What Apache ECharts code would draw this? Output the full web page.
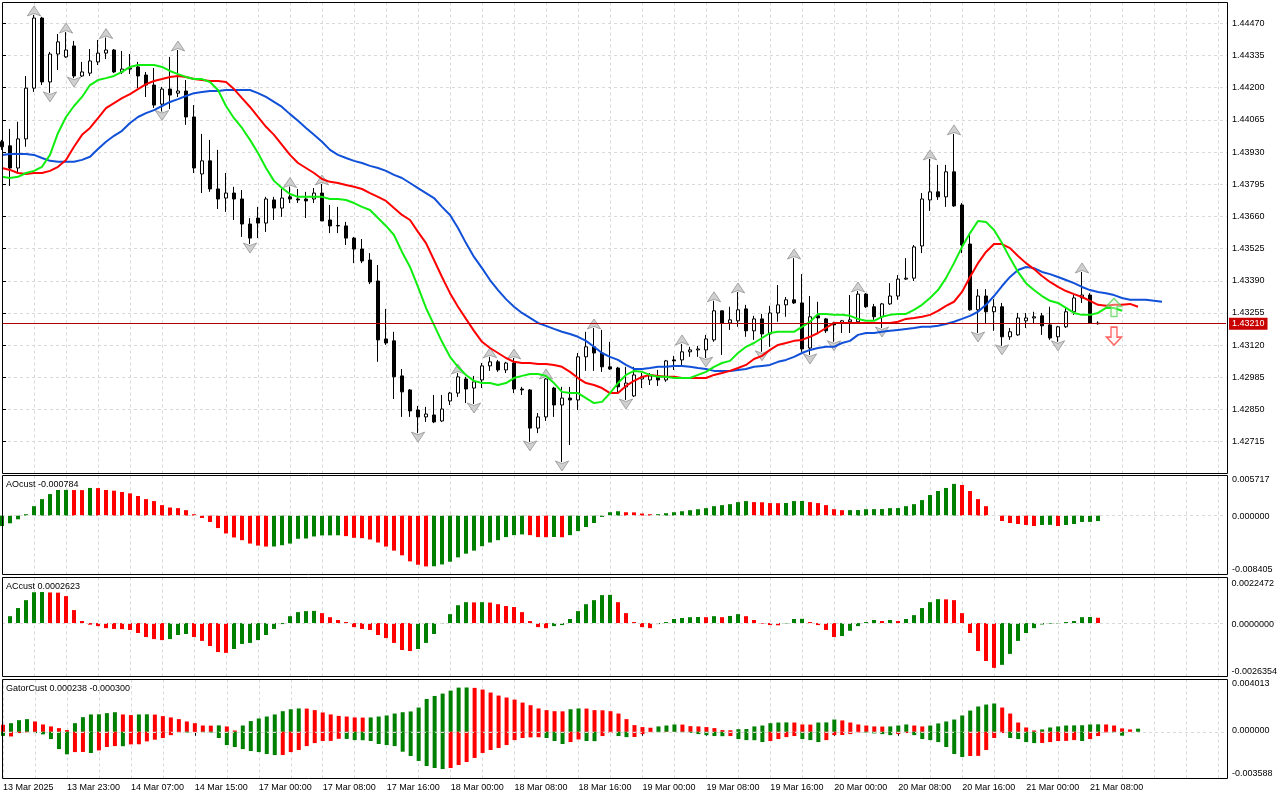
<!DOCTYPE html>
<html>
<head>
<meta charset="utf-8">
<title>USDCAD H1 - Alligator / AO / AC / Gator</title>
<script src="https://cdn.jsdelivr.net/npm/echarts@6/dist/echarts.min.js"></script>
<style>
  html, body { margin: 0; padding: 0; background: #fff; }
  #chart { width: 1280px; height: 800px; }
</style>
</head>
<body>
<div id="chart"></div>
<script>
// ---- time axis ----
const sessions = [
  ['13 Mar', 15, 23], ['14 Mar', 0, 22], ['17 Mar', 0, 23], ['18 Mar', 0, 23],
  ['19 Mar', 0, 23], ['20 Mar', 0, 23], ['21 Mar', 0, 9]
];
const firstLabel = '13 Mar 2025';
const futureSlots = 16;

// ---- candles (H1) ----
const opens = [
  1.43973,1.43956,1.43863,1.43985,1.44198,1.44492,1.44224,1.44341,1.44329,1.44375,
  1.44249,1.44261,1.44308,1.44345,1.44358,1.44266,1.44278,1.44287,1.44253,1.44211,
  1.44131,1.44194,1.44177,1.44186,1.44077,1.43838,1.43893,1.43775,1.43737,1.43758,
  1.43733,1.43628,1.43653,1.43632,1.43729,1.43695,1.43742,1.43733,1.43733,1.43733,
  1.43758,1.43645,1.43622,1.43620,1.43569,1.43523,1.43477,1.43389,1.43146,1.43138,
  1.42991,1.42932,1.42848,1.42819,1.42827,1.42802,1.42886,1.42919,1.42978,1.42940,
  1.42974,1.43033,1.43050,1.43016,1.43045,1.42936,1.42932,1.42772,1.42819,1.42940,
  1.42869,1.42898,1.42890,1.43071,1.43113,1.43087,1.43029,1.43024,1.42945,1.42907,
  1.42978,1.42974,1.42987,1.42974,1.43058,1.43058,1.43092,1.43100,1.43100,1.43142,
  1.43264,1.43213,1.43222,1.43272,1.43180,1.43230,1.43167,1.43255,1.43289,1.43310,
  1.43297,1.43108,1.43243,1.43230,1.43213,1.43213,1.43218,1.43218,1.43334,1.43281,
  1.43239,1.43293,1.43326,1.43397,1.43401,1.43536,1.43729,1.43763,1.43742,1.43847,
  1.43708,1.43544,1.43268,1.43326,1.43260,1.43281,1.43155,1.43163,1.43222,1.43234,
  1.43243,1.43205,1.43155,1.43197,1.43260,1.43318,1.43330,1.43212
];
const highs = [
  1.43981,1.44027,1.44057,1.44249,1.44505,1.44497,1.44350,1.44425,1.44433,1.44396,
  1.44308,1.44362,1.44400,1.44410,1.44362,1.44354,1.44341,1.44308,1.44266,1.44282,
  1.44203,1.44329,1.44358,1.44232,1.44127,1.44006,1.43981,1.43939,1.43842,1.43784,
  1.43771,1.43653,1.43700,1.43742,1.43742,1.43775,1.43785,1.43775,1.43763,1.43779,
  1.43796,1.43708,1.43700,1.43637,1.43574,1.43565,1.43506,1.43456,1.43272,1.43176,
  1.43020,1.42936,1.42865,1.42861,1.42911,1.42911,1.42924,1.43003,1.42987,1.42991,
  1.43045,1.43071,1.43058,1.43050,1.43066,1.42945,1.42936,1.42835,1.42982,1.42945,
  1.42945,1.42945,1.43087,1.43176,1.43192,1.43184,1.43134,1.43029,1.43029,1.43029,
  1.43003,1.43003,1.43016,1.43058,1.43075,1.43125,1.43113,1.43117,1.43163,1.43306,
  1.43264,1.43281,1.43343,1.43289,1.43243,1.43251,1.43285,1.43372,1.43322,1.43485,
  1.43418,1.43326,1.43302,1.43234,1.43218,1.43226,1.43330,1.43347,1.43338,1.43293,
  1.43297,1.43380,1.43414,1.43485,1.43540,1.43758,1.43901,1.43876,1.43876,1.44006,
  1.43716,1.43582,1.43355,1.43355,1.43313,1.43297,1.43192,1.43255,1.43255,1.43260,
  1.43255,1.43281,1.43201,1.43276,1.43330,1.43427,1.43338,1.43220
];
const lows = [
  1.43939,1.43788,1.43842,1.43952,1.44182,1.44211,1.44178,1.44274,1.44325,1.44240,
  1.44245,1.44249,1.44295,1.44320,1.44261,1.44257,1.44257,1.44198,1.44161,1.44115,
  1.44100,1.44110,1.44161,1.44044,1.43842,1.43758,1.43763,1.43691,1.43679,1.43645,
  1.43574,1.43544,1.43569,1.43595,1.43645,1.43658,1.43716,1.43716,1.43653,1.43716,
  1.43641,1.43590,1.43590,1.43540,1.43464,1.43464,1.43376,1.43050,1.43121,1.42894,
  1.42819,1.42819,1.42751,1.42798,1.42793,1.42798,1.42869,1.42903,1.42877,1.42873,
  1.42940,1.43012,1.43008,1.43003,1.42919,1.42911,1.42714,1.42751,1.42802,1.42819,
  1.42630,1.42701,1.42848,1.43012,1.43012,1.43008,1.43016,1.42919,1.42890,1.42903,
  1.42940,1.42953,1.42949,1.42966,1.43016,1.43037,1.43071,1.43071,1.43066,1.43134,
  1.43079,1.43184,1.43197,1.43155,1.43142,1.43092,1.43113,1.43218,1.43239,1.43293,
  1.43092,1.43079,1.43171,1.43171,1.43134,1.43171,1.43171,1.43209,1.43276,1.43226,
  1.43192,1.43289,1.43310,1.43393,1.43389,1.43506,1.43683,1.43729,1.43700,1.43700,
  1.43506,1.43264,1.43171,1.43213,1.43180,1.43117,1.43142,1.43159,1.43192,1.43213,
  1.43163,1.43142,1.43134,1.43192,1.43247,1.43297,1.43209,1.43206
];
const closes = [
  1.43952,1.43863,1.43985,1.44198,1.44492,1.44224,1.44341,1.44392,1.44358,1.44249,
  1.44266,1.44312,1.44345,1.44358,1.44266,1.44278,1.44282,1.44249,1.44211,1.44127,
  1.44194,1.44169,1.44186,1.44077,1.43863,1.43893,1.43775,1.43733,1.43758,1.43733,
  1.43628,1.43569,1.43632,1.43733,1.43695,1.43737,1.43733,1.43729,1.43725,1.43758,
  1.43641,1.43620,1.43620,1.43569,1.43523,1.43473,1.43385,1.43142,1.43129,1.42987,
  1.42924,1.42844,1.42819,1.42831,1.42798,1.42852,1.42919,1.42987,1.42936,1.42966,
  1.43033,1.43050,1.43016,1.43045,1.42936,1.42932,1.42772,1.42819,1.42978,1.42869,
  1.42898,1.42890,1.43071,1.43113,1.43087,1.43029,1.43020,1.42945,1.42961,1.42995,
  1.42987,1.42991,1.42974,1.43054,1.43054,1.43092,1.43100,1.43104,1.43146,1.43264,
  1.43213,1.43226,1.43268,1.43180,1.43230,1.43167,1.43255,1.43289,1.43310,1.43297,
  1.43104,1.43239,1.43234,1.43180,1.43205,1.43222,1.43226,1.43334,1.43281,1.43239,
  1.43293,1.43326,1.43397,1.43401,1.43532,1.43733,1.43763,1.43742,1.43847,1.43704,
  1.43540,1.43268,1.43326,1.43260,1.43281,1.43155,1.43176,1.43234,1.43234,1.43239,
  1.43201,1.43150,1.43197,1.43260,1.43318,1.43330,1.43213,1.43210
];
const lastPrice = 1.43210;

// ---- alligator (already shifted forward) ----
const jaw = [
  1.43918,1.43922,1.43922,1.43922,1.43918,1.43905,1.43893,1.43889,1.43889,1.43889,
  1.43897,1.43910,1.43943,1.43973,1.43998,1.44019,1.44052,1.44077,1.44093,1.44106,
  1.44123,1.44140,1.44152,1.44165,1.44177,1.44182,1.44186,1.44186,1.44190,1.44190,
  1.44190,1.44190,1.44177,1.44161,1.44140,1.44119,1.44089,1.44061,1.44031,1.44002,
  1.43973,1.43939,1.43918,1.43905,1.43893,1.43884,1.43872,1.43863,1.43851,1.43834,
  1.43821,1.43800,1.43779,1.43758,1.43737,1.43700,1.43666,1.43611,1.43548,1.43490,
  1.43443,1.43393,1.43351,1.43313,1.43281,1.43255,1.43234,1.43213,1.43201,1.43188,
  1.43176,1.43167,1.43155,1.43138,1.43113,1.43087,1.43071,1.43058,1.43037,1.43020,
  1.43020,1.43024,1.43029,1.43029,1.43033,1.43033,1.43029,1.43024,1.43020,1.43012,
  1.43012,1.43012,1.43016,1.43020,1.43029,1.43033,1.43037,1.43050,1.43058,1.43071,
  1.43087,1.43100,1.43108,1.43113,1.43113,1.43129,1.43138,1.43163,1.43171,1.43171,
  1.43176,1.43180,1.43184,1.43188,1.43192,1.43197,1.43197,1.43201,1.43209,1.43218,
  1.43230,1.43243,1.43260,1.43289,1.43326,1.43368,1.43406,1.43435,1.43448,1.43443,
  1.43427,1.43418,1.43406,1.43393,1.43380,1.43364,1.43351,1.43343,1.43338,1.43330,
  1.43318,1.43310,1.43310,1.43310,1.43306,1.43302
];
const teeth = [
  1.43863,1.43855,1.43842,1.43838,1.43842,1.43842,1.43851,1.43868,1.43897,1.43952,
  1.44002,1.44031,1.44072,1.44114,1.44135,1.44156,1.44173,1.44194,1.44215,1.44228,
  1.44236,1.44245,1.44249,1.44245,1.44236,1.44232,1.44228,1.44228,1.44224,1.44194,
  1.44156,1.44119,1.44077,1.44036,1.44002,1.43960,1.43918,1.43884,1.43863,1.43842,
  1.43817,1.43805,1.43800,1.43792,1.43784,1.43775,1.43758,1.43742,1.43725,1.43695,
  1.43666,1.43645,1.43595,1.43548,1.43477,1.43406,1.43338,1.43281,1.43230,1.43180,
  1.43134,1.43108,1.43087,1.43066,1.43050,1.43045,1.43045,1.43041,1.43041,1.43037,
  1.43029,1.43008,1.42982,1.42961,1.42953,1.42940,1.42919,1.42919,1.42949,1.42970,
  1.42987,1.42995,1.42991,1.42987,1.42987,1.42982,1.42982,1.42982,1.42982,1.42995,
  1.43003,1.43012,1.43024,1.43037,1.43062,1.43075,1.43100,1.43121,1.43129,1.43138,
  1.43142,1.43155,1.43171,1.43192,1.43213,1.43213,1.43213,1.43213,1.43213,1.43213,
  1.43213,1.43213,1.43218,1.43230,1.43234,1.43239,1.43247,1.43264,1.43285,1.43302,
  1.43343,1.43406,1.43464,1.43511,1.43544,1.43544,1.43527,1.43494,1.43464,1.43439,
  1.43410,1.43385,1.43364,1.43347,1.43334,1.43322,1.43306,1.43289,1.43285,1.43289,
  1.43289,1.43293,1.43281
];
const lips = [
  1.43826,1.43821,1.43826,1.43842,1.43851,1.43868,1.43918,1.44010,1.44077,1.44123,
  1.44161,1.44211,1.44232,1.44240,1.44249,1.44266,1.44287,1.44295,1.44295,1.44295,
  1.44287,1.44270,1.44257,1.44245,1.44236,1.44236,1.44224,1.44190,1.44123,1.44072,
  1.44031,1.43981,1.43926,1.43863,1.43809,1.43779,1.43754,1.43742,1.43742,1.43742,
  1.43742,1.43733,1.43733,1.43729,1.43716,1.43700,1.43687,1.43653,1.43620,1.43582,
  1.43511,1.43448,1.43364,1.43276,1.43205,1.43134,1.43071,1.43029,1.42995,1.42970,
  1.42961,1.42961,1.42953,1.42961,1.42982,1.42991,1.42999,1.42999,1.42991,1.42961,
  1.42924,1.42919,1.42919,1.42898,1.42877,1.42882,1.42919,1.42961,1.42995,1.43012,
  1.43008,1.42995,1.42987,1.42987,1.42982,1.42982,1.42982,1.42995,1.43008,1.43029,
  1.43045,1.43054,1.43087,1.43113,1.43129,1.43150,1.43171,1.43176,1.43176,1.43176,
  1.43197,1.43218,1.43251,1.43251,1.43247,1.43247,1.43243,1.43230,1.43222,1.43222,
  1.43239,1.43247,1.43251,1.43251,1.43268,1.43289,1.43318,1.43351,1.43401,1.43464,
  1.43532,1.43590,1.43641,1.43637,1.43603,1.43548,1.43485,1.43427,1.43380,1.43351,
  1.43326,1.43306,1.43297,1.43276,1.43255,1.43247,1.43247,1.43255,1.43276,1.43276,
  1.43264
];

// fractal bars (arrow sits above the high / below the low)
const fractalUpBars = [4, 8, 13, 22, 36, 40, 57, 61, 64, 68, 74, 85, 89, 92, 99, 107, 116, 119, 135];
const fractalDownBars = [6, 9, 20, 31, 52, 59, 66, 70, 78, 88, 95, 101, 104, 110, 122, 125, 132];
// signal arrows at the right end
const signalUp = [[139, 1.43278]];
const signalDown = [[139, 1.43158]];

// ---- Awesome oscillator ----
const ao = [
  -0.00149,-0.00110,-0.00053,0.00019,0.00134,0.00235,0.00307,0.00365,0.00366,0.00364,
  0.00363,0.00394,0.00392,0.00365,0.00355,0.00336,0.00317,0.00279,0.00235,0.00207,
  0.00149,0.00115,0.00106,0.00077,0.00019,-0.00034,-0.00091,-0.00178,-0.00255,-0.00312,
  -0.00351,-0.00399,-0.00428,-0.00442,-0.00441,-0.00423,-0.00399,-0.00331,-0.00327,-0.00298,
  -0.00283,-0.00282,-0.00281,-0.00293,-0.00317,-0.00322,-0.00341,-0.00384,-0.00442,-0.00500,
  -0.00567,-0.00653,-0.00701,-0.00725,-0.00723,-0.00697,-0.00658,-0.00596,-0.00543,-0.00500,
  -0.00437,-0.00384,-0.00351,-0.00307,-0.00279,-0.00269,-0.00279,-0.00307,-0.00308,-0.00306,
  -0.00309,-0.00279,-0.00221,-0.00163,-0.00106,-0.00019,0.00048,0.00062,0.00048,0.00046,
  0.00029,0.00019,0.00020,0.00034,0.00048,0.00062,0.00077,0.00091,0.00106,0.00134,
  0.00149,0.00163,0.00192,0.00207,0.00192,0.00190,0.00178,0.00177,0.00180,0.00207,
  0.00208,0.00192,0.00178,0.00149,0.00091,0.00077,0.00078,0.00079,0.00091,0.00092,
  0.00093,0.00106,0.00107,0.00134,0.00163,0.00221,0.00293,0.00351,0.00394,0.00452,
  0.00437,0.00351,0.00235,0.00134,-0.00001,-0.00077,-0.00106,-0.00120,-0.00134,-0.00149,
  -0.00134,-0.00133,-0.00149,-0.00134,-0.00120,-0.00091,-0.00090,-0.000784
];
const aoColors = [
  'gggggggggr','rgrrrrrrrr','rrrrrrrrrr','rrrrgggggg','gggrrrrrrr','rrrrgggggg','ggggggrrrg',
  'rgggggggrr','rrgggggggg','ggggrrrrgg','grrrrrgggg','gggggggggg','rrrrrrrrrr','ggrggggg'
].join('');

// ---- Accelerator oscillator ----
const ac = [
  null,0.00034,0.00074,0.00113,0.00152,0.00153,0.00151,0.00150,0.00133,0.00064,
  0.00010,-0.00008,-0.00015,-0.00025,-0.00029,-0.00030,-0.00034,-0.00049,-0.00069,-0.00079,
  -0.00084,-0.00079,-0.00059,-0.00054,-0.00069,-0.00088,-0.00113,-0.00143,-0.00147,-0.00128,
  -0.00103,-0.00098,-0.00084,-0.00059,-0.00029,-0.00005,0.00034,0.00054,0.00059,0.00060,
  0.00049,0.00029,0.00015,0.00005,-0.00020,-0.00029,-0.00034,-0.00059,-0.00074,-0.00098,
  -0.00133,-0.00138,-0.00128,-0.00098,-0.00054,-0.00002,0.00044,0.00088,0.00103,0.00102,
  0.00103,0.00101,0.00093,0.00084,0.00079,0.00054,0.00010,-0.00020,-0.00025,-0.00015,
  -0.00010,0.00020,0.00059,0.00093,0.00113,0.00138,0.00139,0.00103,0.00049,0.00005,
  -0.00020,-0.00025,-0.00005,0.00005,0.00020,0.00025,0.00029,0.00030,0.00029,0.00034,
  0.00029,0.00035,0.00044,0.00034,0.00015,-0.00003,-0.00010,-0.00011,-0.00002,0.00020,
  0.00021,0.00005,-0.00010,-0.00034,-0.00069,-0.00064,-0.00038,-0.00015,0.00005,0.00015,
  0.00010,0.00015,0.00010,0.00020,0.00039,0.00074,0.00103,0.00118,0.00117,0.00113,
  0.00049,-0.00049,-0.00138,-0.00187,-0.00221,-0.00206,-0.00152,-0.00088,-0.00049,-0.00025,
  -0.00007,-0.00003,-0.00002,0.00005,0.00010,0.00029,0.00030,0.0002623
];
const acColors = [
  'ggggggrrrr','rrrrrrrrrr','rgggrrrrrg','gggggggggg','rrrrrrrrrr','rrgggggggr','grrrrrrrrg',
  'gggggggrrr','rrggggggrg','rggrrrrrgg','grrrrggggg','rgrgggggrr','rrrrrggggg','gggggggr'
].join('');

// ---- Gator oscillator (upper = |jaw-teeth|, lower = -|teeth-lips|) ----
const gatorUpper = [
  0.00054,0.00066,0.00089,0.00097,0.00079,0.00056,0.00041,0.00028,0.00013,0.00066,
  0.00112,0.00133,0.00134,0.00143,0.00150,0.00133,0.00128,0.00133,0.00134,0.00132,
  0.00120,0.00110,0.00097,0.00079,0.00066,0.00048,0.00047,0.00049,0.00041,0.00010,
  0.00048,0.00082,0.00102,0.00117,0.00133,0.00158,0.00173,0.00179,0.00178,0.00166,
  0.00148,0.00133,0.00122,0.00117,0.00110,0.00109,0.00110,0.00117,0.00125,0.00140,
  0.00150,0.00156,0.00186,0.00252,0.00275,0.00293,0.00316,0.00339,0.00340,0.00337,
  0.00324,0.00301,0.00278,0.00263,0.00247,0.00224,0.00204,0.00179,0.00166,0.00158,
  0.00157,0.00173,0.00179,0.00178,0.00166,0.00165,0.00158,0.00140,0.00097,0.00051,
  0.00036,0.00031,0.00041,0.00048,0.00056,0.00055,0.00043,0.00041,0.00036,0.00028,
  0.00013,0.00012,0.00020,0.00021,0.00041,0.00048,0.00066,0.00071,0.00072,0.00071,
  0.00056,0.00055,0.00071,0.00072,0.00094,0.00087,0.00071,0.00056,0.00048,0.00041,
  0.00040,0.00041,0.00048,0.00056,0.00048,0.00041,0.00048,0.00064,0.00079,0.00094,
  0.00125,0.00163,0.00194,0.00209,0.00217,0.00186,0.00140,0.00071,0.00033,0.00010,
  0.00018,0.00033,0.00041,0.00048,0.00049,0.00050,0.00056,0.00057,0.00056,0.00048,
  0.00026,0.00018,0.000238
];
const gatorUpperColors = [
  'rgggrrrrrg','gggggrrggr','rrrrrrrgrr','ggggggggrr','rrrrrrgggg','gggggggggr','rrrrrrrrrr',
  'rggrrrrrrr','rrgggrrrrr','rrgggggggr','rrgggrrrrr','rgggrrgggg','gggggrrrrr','ggggggggrr','rrg'
].join('');
const gatorLower = [
  -0.00031,-0.00036,-0.00010,-0.00005,-0.00010,-0.00020,-0.00056,-0.00133,-0.00173,-0.00156,
  -0.00155,-0.00163,-0.00143,-0.00117,-0.00110,-0.00111,-0.00097,-0.00096,-0.00074,-0.00061,
  -0.00048,-0.00026,-0.00005,-0.00006,-0.00003,-0.00005,-0.00006,-0.00048,-0.00102,-0.00117,
  -0.00133,-0.00148,-0.00156,-0.00171,-0.00179,-0.00178,-0.00156,-0.00140,-0.00110,-0.00087,
  -0.00071,-0.00070,-0.00054,-0.00055,-0.00064,-0.00065,-0.00071,-0.00094,-0.00102,-0.00110,
  -0.00153,-0.00186,-0.00224,-0.00263,-0.00278,-0.00286,-0.00278,-0.00255,-0.00232,-0.00201,
  -0.00163,-0.00140,-0.00125,-0.00102,-0.00064,-0.00048,-0.00043,-0.00042,-0.00048,-0.00071,
  -0.00094,-0.00079,-0.00059,-0.00071,-0.00072,-0.00033,-0.00010,-0.00033,-0.00041,-0.00040,
  -0.00018,-0.00003,-0.00004,-0.00002,-0.00001,-0.00005,-0.00008,-0.00018,-0.00026,-0.00033,
  -0.00034,-0.00033,-0.00056,-0.00064,-0.00065,-0.00079,-0.00071,-0.00056,-0.00041,-0.00033,
  -0.00056,-0.00064,-0.00079,-0.00064,-0.00026,-0.00025,-0.00018,-0.00005,-0.00006,-0.00013,
  -0.00018,-0.00026,-0.00018,-0.00010,-0.00026,-0.00056,-0.00064,-0.00079,-0.00117,-0.00171,
  -0.00194,-0.00186,-0.00185,-0.00140,-0.00048,-0.00010,-0.00048,-0.00056,-0.00079,-0.00087,
  -0.00086,-0.00079,-0.00071,-0.00070,-0.00064,-0.00071,-0.00056,-0.00033,-0.00005,-0.00006,
  -0.000300
];
const gatorLowerColors = [
  'grrrgggggr','rgrrrgrrrr','rrrgrggggg','gggggrrrrr','rrrggggggg','ggggggrrrr','rrrrrrrrgg',
  'grrggrrggr','rrgrrggggg','grggggrrrr','gggrrrrrgg','ggrrgggggg','grrrrrgggg','rrrrrgrrrg','g'
].join('');

// ---- value-axis ranges / tick labels ----
const priceTicks = { min: 1.42715, max: 1.44470, step: 0.00135 };
const priceView = [1.425816, 1.445572];       // full height of price pane
const aoRange = [-0.008405, 0.005717];
const acRange = [-0.0026354, 0.0022472];
const gatorRange = [-0.003588, 0.004013];

// ---- build ----
const times = [];
sessions.forEach(([day, h0, h1]) => {
  for (let h = h0; h <= h1; h++) times.push(day + ' ' + String(h).padStart(2, '0') + ':00');
});
for (let i = 0; i < futureSlots; i++) times.push('');

const candleData = opens.map((o, i) => [o, closes[i], lows[i], highs[i]]);

const FONT = '"Liberation Sans", Arial, sans-serif';
const GREEN = '#008000', RED = '#ff0000';
const gridLine = { color: '#d9d9d9', type: [3, 3], width: 1 };
const PL = 2, PW = 1224;

const chart = echarts.init(document.getElementById('chart'));

function dataX(gridIndex, withLabels) {
  return {
    type: 'category', gridIndex, data: times, boundaryGap: false,
    axisLine: { show: false },
    axisTick: withLabels
      ? { show: true, length: 4, interval: (i, v) => v !== '' && i % 8 === 0, lineStyle: { color: '#000' } }
      : { show: false },
    axisLabel: withLabels
      ? { show: true, interval: 7, align: 'left', margin: 5, color: '#000', fontSize: 9, fontFamily: FONT,
          formatter: (v, i) => (i === 0 ? firstLabel : v) }
      : { show: false },
    splitLine: { show: true, interval: 3, lineStyle: gridLine }
  };
}
function dataY(gridIndex, range) {
  return { type: 'value', gridIndex, min: range[0], max: range[1], show: false };
}
function labelY(gridIndex, range, digits) {
  return {
    type: 'value', gridIndex, position: 'right', min: range[0], max: range[1],
    axisLine: { show: false }, axisTick: { show: false }, splitLine: { show: false },
    axisLabel: { customValues: [range[0], 0, range[1]], formatter: v => v.toFixed(digits),
                 color: '#000', fontSize: 9, fontFamily: FONT, margin: 5 }
  };
}
const zeroLine = {
  silent: true, symbol: 'none', label: { show: false },
  lineStyle: gridLine, data: [{ yAxis: 0 }]
};
const colorBy = flags => p => (flags[p.dataIndex] === 'g' ? GREEN : RED);
const fractalStyle = { color: '#c4c4c4', borderColor: '#808080', borderWidth: 0.8 };

const option = {
  animation: false,
  backgroundColor: '#ffffff',
  textStyle: { fontFamily: FONT },
  grid: [
    { left: PL, top: 2.5, width: PW, height: 471 },
    { left: PL, top: 475.5, width: PW, height: 99 },
    { left: PL, top: 577.5, width: PW, height: 99 },
    { left: PL, top: 679.5, width: PW, height: 99 },
    { left: PL, top: 23.3, width: 1225, height: 418.4 },
    { left: PL, top: 479.7, width: 1225, height: 90.3 },
    { left: PL, top: 583.3, width: 1225, height: 88.7 },
    { left: PL, top: 683.3, width: 1225, height: 90 }
  ],
  xAxis: [
    dataX(0, false), dataX(1, false), dataX(2, false), dataX(3, true),
    { type: 'value', gridIndex: 4, show: false },
    { type: 'value', gridIndex: 5, show: false },
    { type: 'value', gridIndex: 6, show: false },
    { type: 'value', gridIndex: 7, show: false }
  ],
  yAxis: [
    dataY(0, priceView), dataY(1, aoRange), dataY(2, acRange), dataY(3, gatorRange),
    {
      type: 'value', gridIndex: 4, position: 'right',
      min: priceTicks.min, max: priceTicks.max, interval: priceTicks.step,
      axisLine: { show: false },
      axisTick: { show: true, length: 4, lineStyle: { color: '#000' } },
      axisLabel: { formatter: v => v.toFixed(5), color: '#000', fontSize: 9, fontFamily: FONT, margin: 5 },
      splitLine: { show: true, lineStyle: gridLine }
    },
    labelY(5, aoRange, 6), labelY(6, acRange, 7), labelY(7, gatorRange, 6)
  ],
  series: [
    {
      type: 'candlestick', name: 'USDCAD,H1', xAxisIndex: 0, yAxisIndex: 0,
      data: candleData, barWidth: 4,
      itemStyle: { color: '#ffffff', color0: '#000000', borderColor: '#000000', borderColor0: '#000000', borderWidth: 1 }
    },
    { type: 'line', name: 'Jaw', xAxisIndex: 0, yAxisIndex: 0, data: jaw, symbol: 'none', z: 3,
      lineStyle: { color: '#1150d8', width: 2 },
      markLine: {
        silent: true, symbol: 'none', precision: 5, data: [{ yAxis: lastPrice }],
        lineStyle: { color: '#b40000', width: 1, type: 'solid' },
        label: { show: true, position: 'end', distance: 3, formatter: lastPrice.toFixed(5),
                 color: '#ffffff', backgroundColor: '#c80000', padding: [2, 3, 1, 3],
                 fontSize: 9, fontFamily: FONT }
      } },
    { type: 'line', name: 'Teeth', xAxisIndex: 0, yAxisIndex: 0, data: teeth, symbol: 'none', z: 3,
      lineStyle: { color: '#ff0000', width: 2 } },
    { type: 'line', name: 'Lips', xAxisIndex: 0, yAxisIndex: 0, data: lips, symbol: 'none', z: 3,
      lineStyle: { color: '#10ee10', width: 2 } },
    { type: 'scatter', name: 'Fractal up', xAxisIndex: 0, yAxisIndex: 0,
      data: fractalUpBars.map(k => [k, highs[k]]),
      symbol: 'arrow', symbolSize: [10, 10], symbolOffset: [0, -9], itemStyle: fractalStyle },
    { type: 'scatter', name: 'Fractal down', xAxisIndex: 0, yAxisIndex: 0,
      data: fractalDownBars.map(k => [k, lows[k]]),
      symbol: 'arrow', symbolRotate: 180, symbolSize: [10, 10], symbolOffset: [0, 9], itemStyle: fractalStyle },
    { type: 'scatter', name: 'Buy signal', xAxisIndex: 0, yAxisIndex: 0, data: signalUp, z: 4,
      symbol: 'path://M7.5,0 L15,8 L10.5,8 L10.5,18 L4.5,18 L4.5,8 L0,8 Z', symbolSize: [15, 18],
      itemStyle: { color: 'rgba(235,255,235,0.5)', borderColor: '#5fd35f', borderWidth: 1.5 } },
    { type: 'scatter', name: 'Sell signal', xAxisIndex: 0, yAxisIndex: 0, data: signalDown, z: 4,
      symbol: 'path://M7.5,0 L15,8 L10.5,8 L10.5,18 L4.5,18 L4.5,8 L0,8 Z', symbolSize: [15, 18], symbolRotate: 180,
      itemStyle: { color: 'rgba(255,235,235,0.5)', borderColor: '#ff4040', borderWidth: 1.5 } },

    { type: 'bar', name: 'AOcust', xAxisIndex: 1, yAxisIndex: 1, data: ao, barWidth: 4,
      itemStyle: { color: colorBy(aoColors) }, markLine: zeroLine },
    { type: 'bar', name: 'ACcust', xAxisIndex: 2, yAxisIndex: 2, data: ac, barWidth: 4,
      itemStyle: { color: colorBy(acColors) }, markLine: zeroLine },
    { type: 'bar', name: 'Gator upper', xAxisIndex: 3, yAxisIndex: 3, data: gatorUpper, barWidth: 4, stack: 'gator',
      itemStyle: { color: colorBy(gatorUpperColors) }, markLine: zeroLine },
    { type: 'bar', name: 'Gator lower', xAxisIndex: 3, yAxisIndex: 3, data: gatorLower, barWidth: 4, stack: 'gator',
      itemStyle: { color: colorBy(gatorLowerColors) } }
  ],
  graphic: [
    { type: 'rect', z: 100, silent: true, shape: { x: 2.5, y: 2.5, width: 1225, height: 471 },
      style: { fill: 'none', stroke: '#000', lineWidth: 1 } },
    { type: 'rect', z: 100, silent: true, shape: { x: 2.5, y: 475.5, width: 1225, height: 99 },
      style: { fill: 'none', stroke: '#000', lineWidth: 1 } },
    { type: 'rect', z: 100, silent: true, shape: { x: 2.5, y: 577.5, width: 1225, height: 99 },
      style: { fill: 'none', stroke: '#000', lineWidth: 1 } },
    { type: 'rect', z: 100, silent: true, shape: { x: 2.5, y: 679.5, width: 1225, height: 99 },
      style: { fill: 'none', stroke: '#000', lineWidth: 1 } },
    { type: 'text', z: 100, silent: true, x: 6, y: 485,
      style: { text: 'AOcust ' + ao[ao.length - 1].toFixed(6), fill: '#000', font: '9px ' + FONT, verticalAlign: 'middle' } },
    { type: 'text', z: 100, silent: true, x: 6, y: 587,
      style: { text: 'ACcust ' + ac[ac.length - 1].toFixed(7), fill: '#000', font: '9px ' + FONT, verticalAlign: 'middle' } },
    { type: 'text', z: 100, silent: true, x: 6, y: 689,
      style: { text: 'GatorCust ' + gatorUpper[gatorUpper.length - 1].toFixed(6) + ' ' + gatorLower[gatorLower.length - 1].toFixed(6),
               fill: '#000', font: '9px ' + FONT, verticalAlign: 'middle' } }
  ]
};

chart.setOption(option);
</script>
</body>
</html>
